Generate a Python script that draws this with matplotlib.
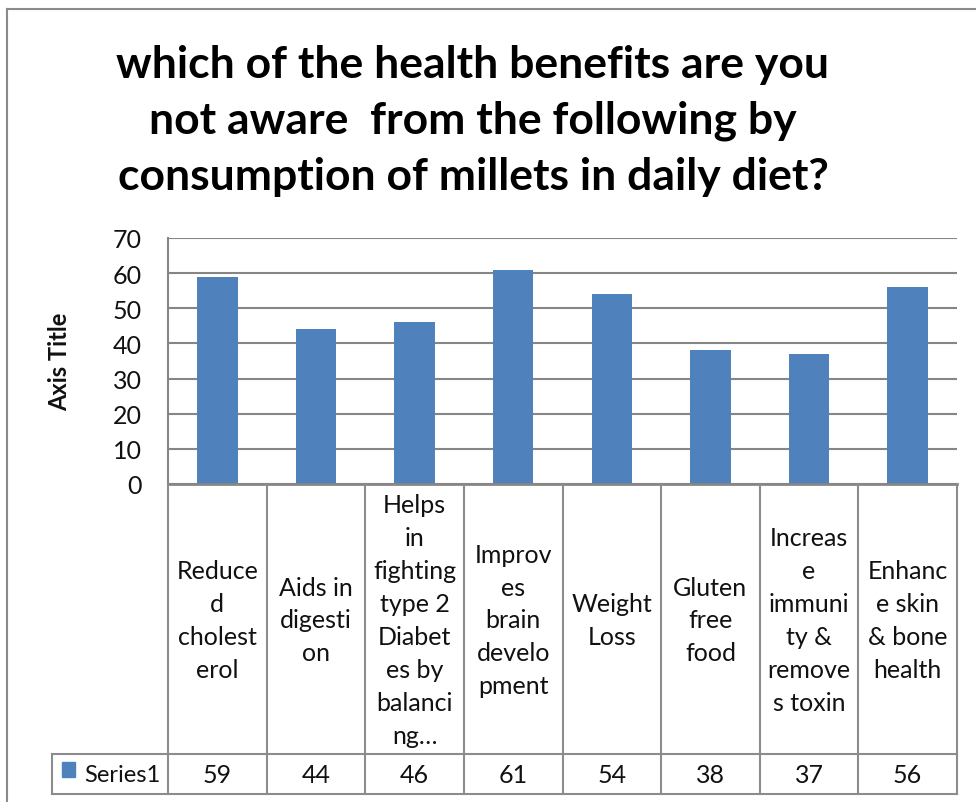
import numpy as np
import matplotlib
matplotlib.use("Agg")
import matplotlib.pyplot as plt
from matplotlib.lines import Line2D
from matplotlib.patches import Rectangle
from matplotlib.transforms import blended_transform_factory

plt.rcParams['font.family'] = ['Lato', 'DejaVu Sans']

title = ("which of the health benefits are you\n"
         "not aware  from the following by\n"
         "consumption of millets in daily diet?")

# category text as it wraps inside the data table cells
categories = [
    "Reduce\nd\ncholest\nerol",
    "Aids in\ndigesti\non",
    "Helps\nin\nfighting\ntype 2\nDiabet\nes by\nbalanci\nng\u2026",
    "Improv\nes\nbrain\ndevelo\npment",
    "Weight\nLoss",
    "Gluten\nfree\nfood",
    "Increas\ne\nimmuni\nty &\nremove\ns toxin",
    "Enhanc\ne skin\n& bone\nhealth",
]
values = [59, 44, 46, 61, 54, 38, 37, 56]
series_name = "Series1"
y_ticks = [0, 10, 20, 30, 40, 50, 60, 70]

BAR = '#4F81BD'
GRID = '#868686'
LINE = '#8c8c8c'
TXT = '#111111'

W, H = 976, 803
fig = plt.figure(figsize=(W / 100, H / 100), dpi=100)


def fx(px):
    return px / W


def fy(py):
    return 1 - py / H


# plot area in pixel terms: x 168..957, y 239..485
ax = fig.add_axes([fx(168), fy(485), fx(957) - fx(168), fy(239) - fy(485)])
x = np.arange(len(values))
ax.bar(x, values, width=0.41, color=BAR, zorder=2)
ax.set_xlim(-0.5, len(values) - 0.5)
ax.set_ylim(0, 70)
ax.set_yticks(y_ticks)
ax.set_xticks([])
ax.yaxis.grid(True, color=GRID, lw=1.5)
ax.set_axisbelow(True)
ax.tick_params(axis='y', length=0, pad=19, labelsize=18, labelcolor=TXT)
for side in ('top', 'right'):
    ax.spines[side].set_visible(False)
ax.spines['left'].set_color(GRID)
ax.spines['left'].set_linewidth(1.5)
ax.spines['bottom'].set_color(GRID)
ax.spines['bottom'].set_linewidth(2)

fig.text(fx(60), fy(362), "Axis Title", rotation=90, ha='center', va='center',
         fontsize=17, fontweight='bold', color=TXT)

# title
fig.text(fx(473), fy(121), title, ha='center', va='center', fontsize=32,
         fontweight='bold', linespacing=1.48)

# data table under the axis
trans = blended_transform_factory(ax.transData, fig.transFigure)
for b in np.arange(-0.5, len(values), 1.0):
    fig.add_artist(Line2D([b, b], [fy(485), fy(795)], transform=trans,
                          color=LINE, lw=1.5))
for py in (755, 795):
    fig.add_artist(Line2D([fx(52), fx(957)], [fy(py), fy(py)],
                          transform=fig.transFigure, color=LINE, lw=1.5))
fig.add_artist(Line2D([fx(52), fx(52)], [fy(755), fy(795)],
                      transform=fig.transFigure, color=LINE, lw=1.5))

for i, (lab, v) in enumerate(zip(categories, values)):
    ax.text(i, fy(621), lab, transform=trans, ha='center', va='center',
            fontsize=18, linespacing=1.52, color=TXT)
    ax.text(i, fy(776), str(v), transform=trans, ha='center', va='center',
            fontsize=18, color=TXT)

fig.add_artist(Rectangle((fx(62), fy(778)), fx(13), fy(763) - fy(778),
                         transform=fig.transFigure, color=BAR))
fig.text(fx(84), fy(776), series_name, ha='left', va='center', fontsize=17,
         color=TXT)

# chart area border
fig.add_artist(Line2D([fx(7), fx(7)], [fy(10), 0], transform=fig.transFigure,
                      color='#8a8a8a', lw=1.5))
fig.add_artist(Line2D([fx(7), 1], [fy(10), fy(10)], transform=fig.transFigure,
                      color='#8a8a8a', lw=1.5))

fig.savefig("out.png", dpi=100)
